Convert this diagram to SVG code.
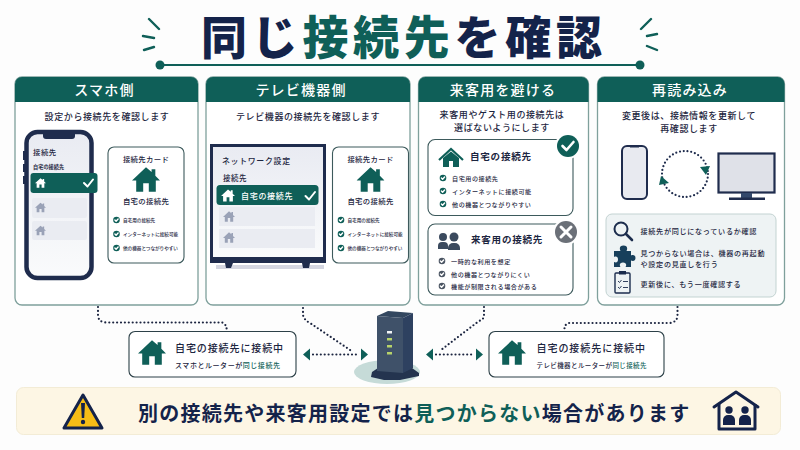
<svg xmlns="http://www.w3.org/2000/svg" width="800" height="450" viewBox="0 0 800 450">
<style>
text{font-family:"Noto Sans CJK JP","Noto Sans",sans-serif;fill:#1c2540}
.b{font-weight:700}
.g{fill:#0f5f58}
.hd{font-size:14px;font-weight:500;fill:#fff;text-anchor:middle;letter-spacing:1.2px}
.sub{font-size:9px;font-weight:500;text-anchor:middle;letter-spacing:.6px}
.cardt{font-size:7.400px;font-weight:500;text-anchor:middle;letter-spacing:.3px}
.tiny{font-size:4.600px;font-weight:500}
.li{font-size:6.100px;font-weight:500;letter-spacing:.55px}
.ti{font-size:7.100px;font-weight:500;letter-spacing:.7px}
.card{fill:#fff;stroke:#7fa09c;stroke-width:1.3}
.head{fill:#0f5f58}
.inner{fill:#fff;stroke:#3d5a5c;stroke-width:1.1}
.row{fill:#eaecf2}
.sel{fill:#0f5f58}
.dot{fill:none;stroke:#1c2540;stroke-width:2.2;stroke-linecap:round;stroke-dasharray:0 3.9}
.tip{fill:#0f5f58}
.ray{fill:none;stroke:#0f5f58;stroke-width:2.4;stroke-linecap:round}
.tick{fill:none;stroke:#fff;stroke-width:1.4;stroke-linecap:round;stroke-linejoin:round}
.chk{fill:none;stroke:#fff;stroke-width:2;stroke-linecap:round;stroke-linejoin:round}
</style>
<defs>
<linearGradient id="scr" x1="0" y1="0" x2="0" y2="1"><stop offset="0" stop-color="#e9ebf2"/><stop offset="1" stop-color="#fafbfc"/></linearGradient>
<symbol id="house" viewBox="0 0 30 26"><path d="M15 0L21 5V2H25V9L30 14H25.500V26H18V17H12V26H4.500V14H0Z"/></symbol>
<g id="ck"><circle r="3.300" fill="#0f5f58"/><path class="tick" d="M-1.600 0L-.4 1.200L1.600-1"/></g>
<g id="ckg"><circle r="3.300" fill="#4b5563"/><path class="tick" d="M-1.600 0L-.4 1.200L1.600-1"/></g>
<g id="hcard">
<rect class="inner" width="76" height="116" rx="6"/>
<text class="cardt" x="38" y="14.500">接続先カード</text>
<use href="#house" x="24" y="20" width="28" height="25" fill="#0f5f58"/>
<text class="cardt b" x="38" y="57">自宅の接続先</text>
<use href="#ck" x="8.500" y="73"/><text class="tiny" x="15" y="75">自宅用の接続先</text>
<use href="#ck" x="8.500" y="87"/><text class="tiny" x="15" y="89">インターネットに接続可能</text>
<use href="#ck" x="8.500" y="101"/><text class="tiny" x="15" y="103">他の機器とつながりやすい</text>
</g>
</defs>
<rect width="800" height="450" fill="#fdfdfd"/>

<g id="title">
<text x="201" y="54" font-size="46" font-weight="900" letter-spacing="4.700"><tspan fill="#14234a">同じ</tspan><tspan fill="#0f5f58">接続先</tspan><tspan fill="#14234a">を確認</tspan></text>
<path d="M160 65H640" fill="none" stroke="#0f5f58" stroke-width="2"/>
<circle cx="160" cy="65" r="4.500" fill="#0f5f58"/><circle cx="640" cy="65" r="4.500" fill="#0f5f58"/>
<path class="ray" d="M149 19L159 29M143 36L154 38M144 50L154 47M651 19L641 29M647 36L657 34M647 46L657 50"/>
</g>

<g id="card-phone">
<rect class="card" x="15" y="77" width="183" height="228" rx="7"/>
<path class="head" d="M15 102V84a7 7 0 0 1 7-7H191a7 7 0 0 1 7 7V102Z"/>
<text class="hd" x="104.500" y="95">スマホ側</text>
<text class="sub" x="107" y="120">設定から接続先を確認します</text>
<rect x="23" y="151" width="3" height="9" fill="#1f2c4d"/><rect x="23" y="164" width="3" height="8" fill="#1f2c4d"/><rect x="23" y="176" width="3" height="8" fill="#1f2c4d"/>
<rect x="26.500" y="132" width="65" height="146" rx="11" fill="url(#scr)" stroke="#1f2c4d" stroke-width="4.500"/>
<path d="M43 133H75V136a3 3 0 0 1-3 3H46a3 3 0 0 1-3-3Z" fill="#1f2c4d"/>
<text x="33" y="155" font-size="7.400" font-weight="500" letter-spacing=".5">接続先</text>
<text x="33" y="169" font-size="5.200" font-weight="700">自宅の接続先</text>
<rect class="sel" x="30.500" y="173" width="67" height="20" rx="3"/>
<use href="#house" x="35" y="178" width="11" height="10" fill="#fff"/>
<path class="chk" d="M84 183L87.500 186.500L93 179.500"/>
<rect class="row" x="32" y="198" width="55" height="20" rx="2"/>
<use href="#house" x="35" y="202" width="11" height="11" fill="#9aa2b7"/>
<rect class="row" x="32" y="221" width="55" height="19" rx="2"/>
<use href="#house" x="35" y="225" width="11" height="11" fill="#9aa2b7"/>
<use href="#hcard" x="108" y="147"/>
</g>

<g id="card-tv">
<rect class="card" x="206" y="77" width="204" height="228" rx="7"/>
<path class="head" d="M206 102V84a7 7 0 0 1 7-7H403a7 7 0 0 1 7 7V102Z"/>
<text class="hd" x="301" y="95">テレビ機器側</text>
<text class="sub" x="308" y="120">テレビ機器の接続先を確認します</text>
<rect x="216" y="265" width="108" height="4" fill="#c9ccd9" opacity=".8"/>
<path d="M225 263H233L231 268H226ZM302 263H310L309 268H303Z" fill="#1f2c4d"/>
<rect x="210" y="144" width="116" height="119" fill="#1f2c4d"/>
<rect x="213" y="147" width="110" height="110" fill="url(#scr)"/>
<text x="222" y="164" font-size="7.900" font-weight="500" letter-spacing=".7">ネットワーク設定</text>
<text x="223" y="181" font-size="7.500" font-weight="500" letter-spacing=".5">接続先</text>
<rect class="row" x="219" y="207" width="96" height="19"/>
<rect class="row" x="219" y="229" width="96" height="19"/>
<rect class="sel" x="216.500" y="185" width="102" height="20" rx="3.500"/>
<use href="#house" x="221" y="189" width="14" height="13" fill="#fff"/>
<text x="241" y="198.500" font-size="8" font-weight="500" letter-spacing=".7" style="fill:#fff">自宅の接続先</text>
<path class="chk" d="M305.500 196L309 199.500L315 192"/>
<use href="#house" x="223" y="211" width="12" height="11" fill="#9aa2b7"/>
<use href="#house" x="223" y="232" width="12" height="11" fill="#9aa2b7"/>
<use href="#hcard" x="332.500" y="147"/>
</g>

<g id="card-guest">
<rect class="card" x="418.500" y="77" width="170" height="228" rx="7"/>
<path class="head" d="M418.500 102V84a7 7 0 0 1 7-7H581.500a7 7 0 0 1 7 7V102Z"/>
<text class="hd" x="503" y="95">来客用を避ける</text>
<text class="sub" x="502" y="118">来客用やゲスト用の接続先は</text>
<text class="sub" x="502" y="131">選ばないようにします</text>
<rect class="inner" x="428" y="139.500" width="145" height="76" rx="7"/>
<circle cx="568" cy="146" r="13" fill="#fff"/>
<circle cx="568" cy="146" r="11" fill="#0f5f58"/>
<path d="M562.500 146L566.500 150L573.500 142" fill="none" stroke="#fff" stroke-width="2.600" stroke-linecap="round" stroke-linejoin="round"/>
<path d="M439 160L451 149L463 160" fill="none" stroke="#0f5f58" stroke-width="2.200"/>
<path d="M443 158L451 151.500L459 158V167H453V161H449V167H443Z" fill="#0f5f58"/>
<text x="470" y="160" font-size="9.500" font-weight="700" letter-spacing=".8">自宅の接続先</text>
<use href="#ck" x="443" y="178"/><text class="li" x="452" y="180.500">自宅用の接続先</text>
<use href="#ck" x="443" y="191"/><text class="li" x="452" y="193.500">インターネットに接続可能</text>
<use href="#ck" x="443" y="204"/><text class="li" x="452" y="206.500">他の機器とつながりやすい</text>
<rect class="inner" x="428" y="224" width="145" height="71" rx="7"/>
<circle cx="566" cy="232" r="13" fill="#fff"/>
<circle cx="566" cy="232" r="11" fill="#6b7078"/>
<path d="M561 227L571 237M571 227L561 237" fill="none" stroke="#fff" stroke-width="3" stroke-linecap="round"/>
<g fill="#3b4a5e"><circle cx="443" cy="237" r="4"/><path d="M438 249V246a4 4 0 0 1 4-4h2a4 4 0 0 1 4 4V249Z"/><circle cx="454" cy="237" r="4.500"/><path d="M448 250V248a5 5 0 0 1 5-5h2a5 5 0 0 1 5 5V250Z"/></g>
<text x="471" y="243" font-size="9.500" font-weight="700" letter-spacing=".8">来客用の接続先</text>
<use href="#ckg" x="442" y="261"/><text class="li" x="451" y="263.500">一時的な利用を想定</text>
<use href="#ckg" x="442" y="274"/><text class="li" x="451" y="276.500">他の機器とつながりにくい</text>
<use href="#ckg" x="442" y="286"/><text class="li" x="451" y="288.500">機能が制限される場合がある</text>
</g>

<g id="card-reload">
<rect class="card" x="597.500" y="77" width="187" height="228" rx="7"/>
<path class="head" d="M597.500 102V84a7 7 0 0 1 7-7H777.500a7 7 0 0 1 7 7V102Z"/>
<text class="hd" x="690" y="95">再読み込み</text>
<text class="sub" x="689" y="119">変更後は、接続情報を更新して</text>
<text class="sub" x="689" y="132">再確認します</text>
<rect x="622" y="146" width="25" height="53" rx="5" fill="#e8eaf0" stroke="#1f2c4d" stroke-width="2"/>
<path d="M630 146H639V147.500H630Z" fill="#1f2c4d"/>
<circle cx="685" cy="174" r="23" fill="none" stroke="#1f2c4d" stroke-width="2.200" stroke-linecap="round" stroke-dasharray="0 3.800"/>
<path d="M700 167L710 166L706 175ZM659 185L669 183L661 176Z" fill="#0f5f58"/>
<rect x="718.500" y="153.500" width="56" height="39" fill="#dfe1e8" stroke="#1f2c4d" stroke-width="2.200"/>
<rect x="741" y="193" width="11" height="6" fill="#33486b"/>
<rect x="729" y="197.500" width="36" height="2.500" fill="#1f2c4d"/>
<rect x="606" y="214" width="170" height="83" rx="6" fill="#eef3f4" stroke="#c3d3d2"/>
<circle cx="621" cy="229" r="6.500" fill="none" stroke="#1c2d4d" stroke-width="2"/>
<path d="M626 234L632 240" stroke="#1c2d4d" stroke-width="2.600" stroke-linecap="round"/>
<path d="M614 251H620.500C619 248 620 245.500 623.500 245.500S628 248 626.500 251H631V255.500C633 254.500 635.500 255 635.500 258S633 261.500 631 260.500V267H625.500C627 265 626 262.500 623 262.500S619 265 620.500 267H614V262C616 263 618 262.500 618 259.500S616 256 614 257Z" fill="#173f5b"/>
<rect x="615" y="273" width="15" height="20" rx="1" fill="none" stroke="#1c2d4d" stroke-width="1.400"/>
<rect x="619" y="271" width="7" height="3.500" fill="#1c2d4d"/>
<path d="M618 281L619.500 282.500L621.500 280M618 287L619.500 288.500L621.500 286M623 281.500H628M623 287.500H628" fill="none" stroke="#1c2d4d" stroke-width=".9"/>
<text class="ti" x="640.500" y="234">接続先が同じになっているか確認</text>
<text class="ti" x="640.500" y="256">見つからない場合は、機器の再起動</text>
<text class="ti" x="640.500" y="267">や設定の見直しを行う</text>
<text class="ti" x="640.500" y="287">更新後に、もう一度確認する</text>
</g>

<g id="connectors">
<path class="dot" d="M98 307V315Q98 322 106 322.500H222Q226 323 227 331"/>
<path class="dot" d="M303 308V315Q304 320 310 323L353 352"/>
<path class="dot" d="M313 354.500H358"/>
<path class="dot" d="M484 307V316Q484 319 479 321L441 350"/>
<path class="dot" d="M436 354.500H472"/>
<path class="dot" d="M677.500 307V316Q677 322 670 323H569Q565 323 564 331"/>
<path class="tip" d="M303 354.500L310 348.500V360.500ZM368 354.500L361 348.500V360.500ZM426 354.500L433 348.500V360.500ZM483 354.500L476 348.500V360.500Z"/>
</g>

<g id="status-left">
<rect class="inner" x="129" y="331.500" width="167" height="45.500" rx="6" style="stroke:#2d4148"/>
<use href="#house" x="138" y="340" width="28" height="25" fill="#0f5f58"/>
<text x="175" y="352" font-size="10" font-weight="500" letter-spacing=".9">自宅の接続先に接続中</text>
<text x="175" y="368" font-size="7" font-weight="500" letter-spacing=".55">スマホとルーターが<tspan class="g">同じ接続先</tspan></text>
</g>

<g id="router">
<ellipse cx="387" cy="372" rx="33" ry="12" fill="#c6dbd8"/>
<path d="M372 372L378 368H412L419 373V376L400 380H384L371 377Z" fill="#24344f"/>
<path d="M377 316L388 311L413 313L403 318Z" fill="#33475f"/>
<path d="M403 318L413 313V368L403 373Z" fill="#2e4160"/>
<path d="M377 316L403 318V373L377 371Z" fill="#3f5169"/>
<rect x="387" y="331" width="5" height="2.500" fill="#f2f4f6"/><rect x="387" y="338" width="5" height="2.500" fill="#b8d36a"/><rect x="387" y="345" width="5" height="2.500" fill="#b8d36a"/><rect x="387" y="352" width="5" height="2.500" fill="#b8d36a"/>
</g>

<g id="status-right">
<rect class="inner" x="489" y="331.500" width="175" height="45.500" rx="6" style="stroke:#2d4148"/>
<use href="#house" x="498" y="340" width="28" height="25" fill="#0f5f58"/>
<text x="536.500" y="352" font-size="10" font-weight="500" letter-spacing=".95">自宅の接続先に接続中</text>
<text x="536.500" y="368" font-size="6.500" font-weight="500" letter-spacing=".4">テレビ機器とルーターが<tspan class="g">同じ接続先</tspan></text>
</g>

<g id="banner">
<rect x="16.500" y="387.500" width="764" height="47" rx="7" fill="#fdf6e4" stroke="#f3ecd6"/>
<path d="M83 395L102 428H64Z" fill="#f6bd16" stroke="#14234a" stroke-width="3" stroke-linejoin="round"/>
<path d="M81 403H85L84.200 418H81.800Z" fill="#14234a"/><circle cx="83" cy="422" r="2.200" fill="#14234a"/>
<text x="138" y="421" font-size="20" font-weight="700" letter-spacing="1.250"><tspan fill="#14234a">別の接続先や来客用設定では</tspan><tspan fill="#0f5f58">見つからない</tspan><tspan fill="#14234a">場合があります</tspan></text>
<path d="M714 407L736 392L758 407" fill="none" stroke="#14234a" stroke-width="3" stroke-linecap="round" stroke-linejoin="round"/>
<path d="M719 404V429H755V404" fill="none" stroke="#14234a" stroke-width="3" stroke-linejoin="round"/>
<g fill="#14234a"><circle cx="729" cy="410" r="3.700"/><path d="M723 425V420a5 5 0 0 1 5-5h2a5 5 0 0 1 5 5V425Z"/><circle cx="745" cy="410" r="3.700"/><path d="M739 425V420a5 5 0 0 1 5-5h2a5 5 0 0 1 5 5V425Z"/></g>
</g>
</svg>
